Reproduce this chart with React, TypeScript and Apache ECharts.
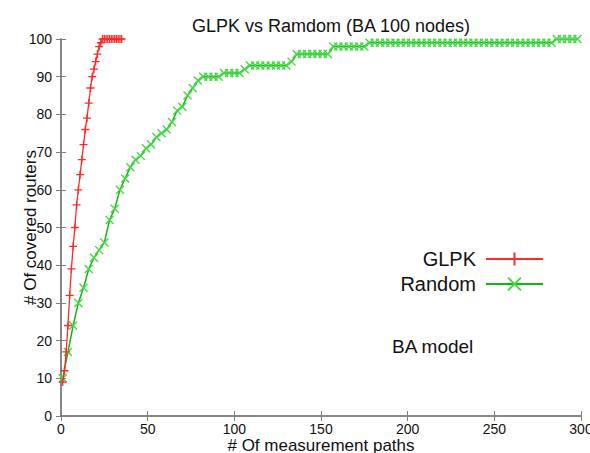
import React, { useEffect, useRef } from "react";
import * as echarts from "echarts";

const TITLE = "GLPK vs Ramdom (BA 100 nodes)";
const X_NAME = "# Of measurement paths";
const Y_NAME = "# Of covered routers";
const SERIES_NAMES = ["GLPK", "Random"];
const NOTE = "BA model";

// GLPK: one sample per measurement path, starting at x = 1
const glpkStart = 1;
const glpkStep = 1;
const glpkY = [
  9, 12, 17, 24, 32, 39, 45, 50, 56, 60,
  64, 68, 72, 76, 79, 83, 87, 90, 92, 94,
  96, 98, 99, 100, 100, 100, 100, 100, 100, 100,
  100, 100, 100, 100, 100,
];

// Random: one sample every 3 paths, starting at x = 1
const randomStart = 1;
const randomStep = 3;
const randomY = [
  10, 17, 24, 30, 34, 39, 42, 44, 46, 52,
  55, 60, 63, 66, 68, 69, 71, 72, 74, 75,
  76, 78, 81, 82, 85, 87, 89, 90, 90, 90,
  90, 91, 91, 91, 91, 92, 93, 93, 93, 93,
  93, 93, 93, 93, 94, 96, 96, 96, 96, 96,
  96, 96, 98, 98, 98, 98, 98, 98, 98, 99,
  99, 99, 99, 99, 99, 99, 99, 99, 99, 99,
  99, 99, 99, 99, 99, 99, 99, 99, 99, 99,
  99, 99, 99, 99, 99, 99, 99, 99, 99, 99,
  99, 99, 99, 99, 99, 100, 100, 100, 100, 100,
];

const X_MIN = 0, X_MAX = 300, X_INT = 50;
const Y_MIN = 0, Y_MAX = 100, Y_INT = 10;

const toPairs = (start: number, step: number, ys: number[]) =>
  ys.map((y, i) => [start + i * step, y]);

export default function App() {
  const ref = useRef<HTMLDivElement>(null);
  useEffect(() => {
    if (!ref.current) return;
    const chart = echarts.init(ref.current, undefined, { renderer: "svg" });
    const axisColor = "#808080";
    const font = "Liberation Sans, Arial, sans-serif";
    const plus = "path://M5,0L5,10M0,5L10,5";
    const cross = "path://M0,0L10,10M10,0L0,10";
    const baseX = {
      type: "value",
      min: X_MIN,
      max: X_MAX,
      interval: X_INT,
      axisLine: { show: true, lineStyle: { color: axisColor, width: 1.5 } },
      axisTick: { show: true, inside: true, length: 5, lineStyle: { color: axisColor } },
      splitLine: { show: false },
    };
    const baseY = {
      type: "value",
      min: Y_MIN,
      max: Y_MAX,
      interval: Y_INT,
      axisLine: { show: true, lineStyle: { color: axisColor, width: 1.5 } },
      axisTick: { show: true, inside: true, length: 5, lineStyle: { color: axisColor } },
      splitLine: { show: false },
    };
    chart.setOption({
      animation: false,
      backgroundColor: "#ffffff",
      textStyle: { fontFamily: font },
      title: {
        text: TITLE,
        left: 326,
        top: 12,
        textAlign: "center",
        textStyle: { fontSize: 18, fontWeight: "normal", color: "#111", fontFamily: font },
      },
      grid: {
        left: 61,
        right: 9,
        top: 39,
        bottom: 37,
        containLabel: false,
        outerBoundsMode: "none",
      },
      legend: {
        orient: "vertical",
        right: 41,
        top: 244,
        align: "right",
        itemWidth: 57,
        itemHeight: 16,
        itemGap: 5,
        textStyle: { fontSize: 20, color: "#111", fontFamily: font, padding: [0, 5, 0, 0] },
        data: SERIES_NAMES,
      },
      xAxis: [
        {
          ...baseX,
          position: "bottom",
          name: X_NAME,
          nameLocation: "middle",
          nameGap: 21,
          nameMoveOverlap: false,
          nameTextStyle: { fontSize: 17, color: "#111", fontFamily: font },
          axisLabel: { fontSize: 14, color: "#111", margin: 6, fontFamily: font },
        },
        {
          ...baseX,
          position: "top",
          axisLabel: { show: false },
        },
      ],
      yAxis: [
        {
          ...baseY,
          position: "left",
          name: Y_NAME,
          nameLocation: "middle",
          nameGap: 22,
          nameMoveOverlap: false,
          nameTextStyle: { fontSize: 17, color: "#111", fontFamily: font },
          axisLabel: { fontSize: 14, color: "#111", margin: 9, fontFamily: font },
        },
        {
          ...baseY,
          position: "right",
          axisLabel: { show: false },
        },
      ],
      graphic: [
        {
          type: "text",
          left: 392,
          top: 337,
          style: { text: NOTE, fontSize: 19, fill: "#111", fontFamily: font },
        },
      ],
      series: [
        {
          name: SERIES_NAMES[0],
          type: "line",
          data: toPairs(glpkStart, glpkStep, glpkY),
          symbol: plus,
          symbolSize: 8,
          showAllSymbol: true,
          lineStyle: { color: "#ff2a2a", width: 1.3 },
          itemStyle: { color: "#ff2a2a", borderColor: "#ff2a2a", borderWidth: 1.3 },
          z: 3,
        },
        {
          name: SERIES_NAMES[1],
          type: "line",
          data: toPairs(randomStart, randomStep, randomY),
          symbol: cross,
          symbolSize: 8,
          showAllSymbol: true,
          lineStyle: { color: "#14b414", width: 1.5 },
          itemStyle: { color: "#44d844", borderColor: "#44d844", borderWidth: 1.4 },
          z: 2,
        },
      ],
    });
    return () => chart.dispose();
  }, []);
  return (
    <div
      ref={ref}
      style={{ position: "fixed", left: 0, top: 0, width: 590, height: 453 }}
    />
  );
}
